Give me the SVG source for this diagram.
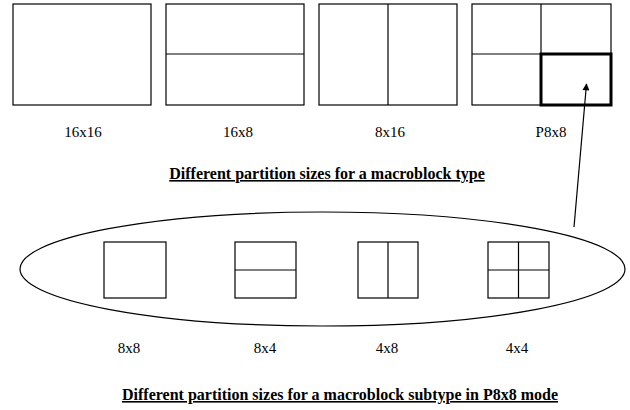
<svg xmlns="http://www.w3.org/2000/svg" width="630" height="410" viewBox="0 0 630 410">
  <style>
    .box { fill: #fff; stroke: #000; stroke-width: 1.2; }
    .div { stroke: #000; stroke-width: 1.2; fill: none; }
    .sel { fill: none; stroke: #000; stroke-width: 3; }
    .lbl { font-family: "Liberation Serif", "Times New Roman", serif; font-size: 15px; fill: #000; text-anchor: middle; }
    .ttl { font-family: "Liberation Serif", "Times New Roman", serif; font-size: 16px; font-weight: bold; fill: #000; text-anchor: middle; text-decoration: underline; }
    .conn { stroke: #000; stroke-width: 1.2; fill: none; }
  </style>
  <defs>
    <marker id="arrow" viewBox="0 0 10 10" refX="9" refY="5" markerWidth="10" markerHeight="7" orient="auto" markerUnits="userSpaceOnUse">
      <path d="M0,0 L10,5 L0,10 Z" fill="#000"/>
    </marker>
  </defs>
  <rect width="630" height="410" fill="#fff"/>

  <!-- macroblock partitions -->
  <g id="mb16x16">
    <rect class="box" x="13" y="4" width="138" height="101"/>
    <text class="lbl" x="83" y="137">16x16</text>
  </g>
  <g id="mb16x8">
    <rect class="box" x="166" y="4" width="138" height="101"/>
    <line class="div" x1="166" y1="54" x2="304" y2="54"/>
    <text class="lbl" x="238" y="137">16x8</text>
  </g>
  <g id="mb8x16">
    <rect class="box" x="319" y="4" width="138" height="101"/>
    <line class="div" x1="388" y1="4" x2="388" y2="105"/>
    <text class="lbl" x="390" y="137">8x16</text>
  </g>
  <g id="mbP8x8">
    <rect class="box" x="472" y="4" width="139" height="101"/>
    <line class="div" x1="541" y1="4" x2="541" y2="105"/>
    <line class="div" x1="472" y1="54" x2="611" y2="54"/>
    <rect class="sel" x="541" y="54" width="70" height="51"/>
    <text class="lbl" x="551" y="137">P8x8</text>
  </g>

  <text class="ttl" x="327" y="179">Different partition sizes for a macroblock type</text>

  <!-- sub-macroblock partitions -->
  <g id="subgroup">
    <ellipse class="div" cx="322.5" cy="269" rx="302.5" ry="57"/>
  </g>
  <g id="sub8x8">
    <rect class="box" x="104" y="242" width="62" height="56"/>
    <text class="lbl" x="129" y="353">8x8</text>
  </g>
  <g id="sub8x4">
    <rect class="box" x="235" y="242" width="61" height="56"/>
    <line class="div" x1="235" y1="270" x2="296" y2="270"/>
    <text class="lbl" x="265" y="353">8x4</text>
  </g>
  <g id="sub4x8">
    <rect class="box" x="358" y="242" width="60" height="56"/>
    <line class="div" x1="388" y1="242" x2="388" y2="298"/>
    <text class="lbl" x="387" y="353">4x8</text>
  </g>
  <g id="sub4x4">
    <rect class="box" x="488" y="242" width="61" height="56"/>
    <line class="div" x1="518.5" y1="242" x2="518.5" y2="298"/>
    <line class="div" x1="488" y1="270" x2="549" y2="270"/>
    <text class="lbl" x="517" y="353">4x4</text>
  </g>

  <text class="ttl" x="340" y="400">Different partition sizes for a macroblock subtype in P8x8 mode</text>

  <g id="connectors">
    <line class="conn" x1="574" y1="227" x2="586.5" y2="84" marker-end="url(#arrow)"/>
  </g>
</svg>
